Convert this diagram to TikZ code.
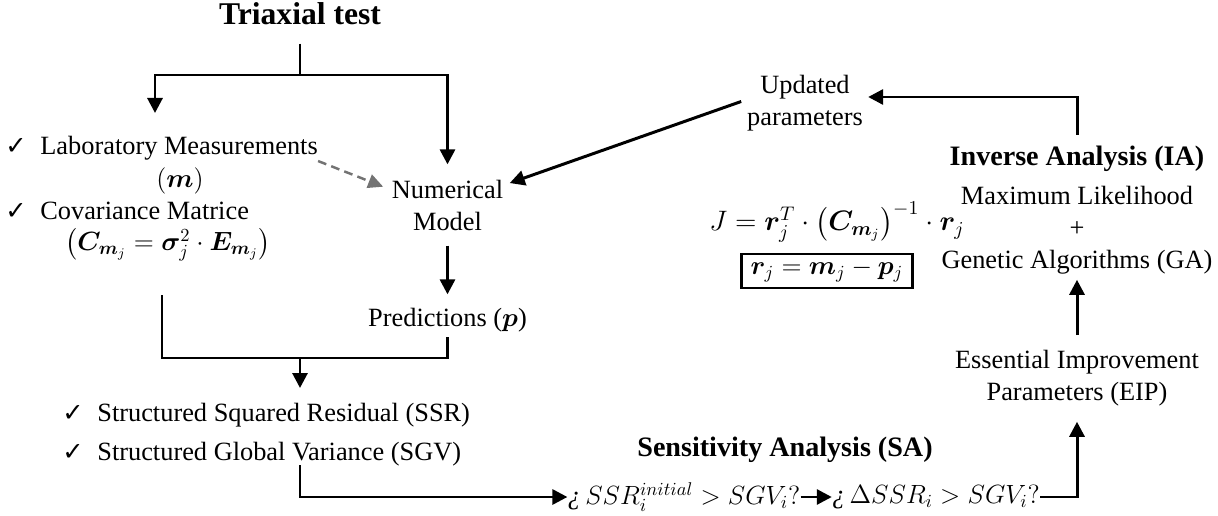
\RequirePackage{fix-cm}
\documentclass[tikz,border=0pt]{standalone}
\usepackage{amsmath,amssymb,bm}
\usepackage{fontspec}
\setmainfont{Liberation Serif}
\newfontfamily\checkfont{DejaVu Sans}
\usetikzlibrary{arrows.meta}

\newcommand{\chkmark}{\makebox[0.7cm][l]{\checkfont\fontsize{14.5}{14}\selectfont ✓}}

\begin{document}
\begin{tikzpicture}[
    wire/.style={draw=black, line width=1.7pt},
    flow/.style={wire, -{Triangle[length=0.3cm, width=0.3cm]}},
    hint/.style={draw=black!55, line width=1.4pt, dash pattern=on 5pt off 3pt,
        -{Triangle[length=0.3cm, width=0.28cm]}},
    txt/.style={inner sep=0pt, font=\fontsize{15}{18.2}\selectfont},
    head/.style={inner sep=0pt, font=\bfseries\fontsize{16}{19}\selectfont},
    title/.style={inner sep=0pt, font=\bfseries\fontsize{18}{21}\selectfont},
    eq/.style={inner sep=0pt, font=\fontsize{15}{18}\selectfont},
    result/.style={draw=black, line width=1.7pt, inner sep=0pt,
        minimum width=3.42cm, minimum height=0.68cm, font=\fontsize{15}{18}\selectfont}
]
\useasboundingbox (0,0) rectangle (24.36,10.3);

% Triaxial test
\node[title, anchor=base] (triaxial) at (6.0,9.8) {Triaxial test};
\coordinate (split) at (6.0,8.8);
\coordinate (lab-in) at (3.1,8.04);

% Measurements and covariance
\node[txt, anchor=base west] (lab) at (0.1,7.2) {\chkmark Laboratory Measurements};
\node[eq, anchor=base] (meas) at (3.6,6.54) {$(\bm{m})$};
\node[txt, anchor=base west] (cov) at (0.1,5.9) {\chkmark Covariance Matrice};
\node[eq] (covmat) at (3.36,5.4)
    {$\left(\bm{C}_{\bm{m}_j}=\bm{\sigma}_j^2\cdot\bm{E}_{\bm{m}_j}\right)$};

% Numerical model and predictions
\node[txt, align=center] (model) at (8.95,6.2) {Numerical\\Model};
\node[txt, anchor=base] (pred) at (8.95,3.78) {Predictions ($\bm{p}$)};

% Residual and variance
\node[txt, anchor=base west] (ssr) at (1.24,1.88)
    {\chkmark Structured Squared Residual (SSR)};
\node[txt, anchor=base west] (sgv) at (1.24,1.1)
    {\chkmark Structured Global Variance (SGV)};

% Sensitivity analysis
\node[head, anchor=base] (sa) at (15.7,1.18) {Sensitivity Analysis (SA)};
\node[eq] (q-init) at (13.68,0.36)
    {{\itshape ¿}\,$SSR_i^{initial} > SGV_i?$};
\node[eq] (q-delta) at (18.72,0.36)
    {{\itshape ¿}\,$\Delta SSR_i > SGV_i?$};

% Inverse analysis
\node[txt, align=center] (eip) at (21.54,2.73)
    {Essential Improvement\\Parameters (EIP)};
\node[txt, align=center] (ml-ga) at (21.54,5.69)
    {Maximum Likelihood\\+\\Genetic Algorithms (GA)};
\node[head, anchor=base] (ia) at (21.54,6.98) {Inverse Analysis (IA)};
\node[txt, align=center] (updated) at (16.1,8.23) {Updated\\parameters};

% Objective function
\node[eq, font=\fontsize{16}{19}\selectfont] (objective) at (16.74,5.86)
    {$J=\bm{r}_j^T\cdot\left(\bm{C}_{\bm{m}_j}\right)^{-1}\cdot\bm{r}_j$};
\node[result] (residual) at (16.54,4.88) {$\bm{r}_j=\bm{m}_j-\bm{p}_j$};

% connectors
\draw[wire, shorten <=0.36cm] (triaxial.south) -- (split);
\draw[flow] (split) -| (lab-in);
\draw[flow, shorten >=0.3cm] (split) -| (model.north);
\draw[hint, shorten >=0.18cm] (lab.south east) -- (model.165);
\draw[flow, shorten <=0.3cm, shorten >=0.26cm] (model.south) -- (pred.north);

\coordinate (cov-out) at (3.24,4.4);
\coordinate (merge) at (6.0,3.14);
\coordinate (list-in) at (6.0,2.54);
\draw[wire] (cov-out) |- (merge) -| ([yshift=-0.1cm]pred.south);
\draw[flow] (merge) -- (list-in);

\coordinate (sa-in) at (6.0,1.0);
\draw[flow] (sa-in) |- (q-init.west);
\draw[flow] (q-init) -- (q-delta);
\draw[flow, shorten >=0.3cm] (q-delta.east) -| (eip.south);
\draw[flow, shorten <=0.3cm, shorten >=0.1cm] (eip.north) -- (ml-ga.south);
\draw[flow, shorten <=0.23cm, shorten >=0.1cm] (ia.north) |- ([yshift=0.13cm]updated.east);
\draw[flow, shorten <=0.12cm, shorten >=1.32cm] ([yshift=0.08cm]updated.west) -- (model.center);

\end{tikzpicture}
\end{document}
